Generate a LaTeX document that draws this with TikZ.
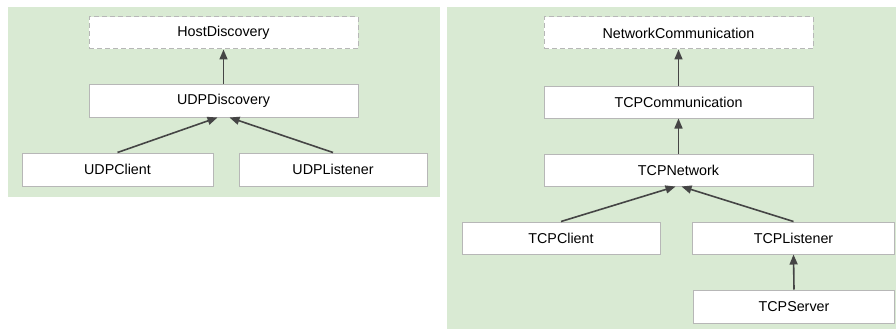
\documentclass[tikz,border=0pt]{standalone}
\usepackage{fontspec}
\setmainfont{Liberation Sans}
\usetikzlibrary{arrows.meta}
\definecolor{panelgreen}{HTML}{D9EAD3}
\definecolor{boxborder}{HTML}{B7B7B7}
\definecolor{arrowgray}{HTML}{454545}
\tikzset{
  panel/.style={fill=panelgreen, draw=none},
  cls/.style={draw=boxborder, line width=1pt, fill=white, inner sep=0pt, font=\fontsize{14.3}{16}\selectfont},
  abstractcls/.style={cls, dash pattern=on 5pt off 3pt},
  inherit/.style={draw=arrowgray, line width=1.6pt, -{Triangle[length=10pt,width=8pt]}},
}
\begin{document}
\begin{tikzpicture}[x=1pt,y=-1pt]
\useasboundingbox (0,0) rectangle (896,329);
\fill[white] (0,0) rectangle (896,329);
% panels
\path[panel] (8,7) rectangle (440,197);
\path[panel] (447,7) rectangle (896,329);
% left diagram
\node[abstractcls, minimum width=269pt, minimum height=32pt] (hd) at (223.5,33) {HostDiscovery};
\node[cls, minimum width=269pt, minimum height=33pt] (ud) at (223.5,100.5) {UDPDiscovery};
\node[cls, minimum width=191pt, minimum height=33pt] (uc) at (117.5,169.5) {UDPClient};
\node[cls, minimum width=188pt, minimum height=33pt] (ul) at (333,169.5) {UDPListener};
\draw[inherit] (ud.north) -- (hd.south);
\draw[inherit] (uc.north) -- ([xshift=-6pt]ud.south);
\draw[inherit] (ul.north) -- ([xshift=6pt]ud.south);
% right diagram
\node[abstractcls, minimum width=269pt, minimum height=32pt] (nc) at (678.5,33) {NetworkCommunication};
\node[cls, minimum width=269pt, minimum height=32pt] (tc) at (678.5,102) {TCPCommunication};
\node[cls, minimum width=269pt, minimum height=32pt] (tn) at (678.5,170) {TCPNetwork};
\node[cls, minimum width=198pt, minimum height=32pt] (tcl) at (561,238) {TCPClient};
\node[cls, minimum width=202pt, minimum height=32pt] (tl) at (793.5,238) {TCPListener};
\node[cls, minimum width=201pt, minimum height=33pt] (ts) at (794,306.5) {TCPServer};
\draw[inherit] (tc.north) -- (nc.south);
\draw[inherit] (tn.north) -- (tc.south);
\draw[inherit] (tcl.north) -- ([xshift=-3pt]tn.south);
\draw[inherit] (tl.north) -- ([xshift=3pt]tn.south);
\draw[inherit] (ts.north) -- (tl.south);
\end{tikzpicture}
\end{document}
